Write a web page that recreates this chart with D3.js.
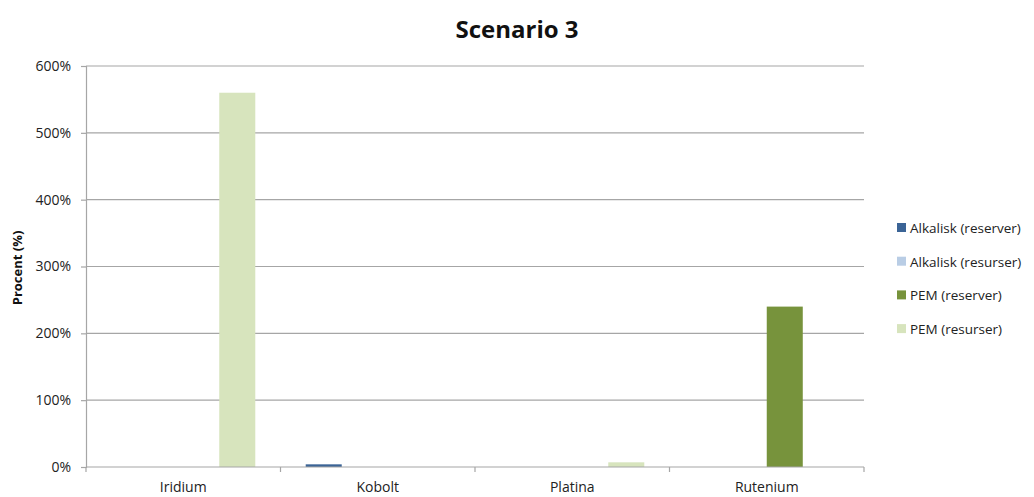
<!DOCTYPE html>
<html>
<head>
<meta charset="utf-8">
<script src="https://cdn.jsdelivr.net/npm/d3@7"></script>
<style>
  body { margin: 0; background: #fff; }
  svg { display: block; font-family: "Open Sans", "Liberation Sans", sans-serif; }
</style>
</head>
<body>
<svg id="chart" width="1034" height="497"></svg>
<script>
// Metal categories and the four technology/estimate series (values in percent)
const categories = ["Iridium", "Kobolt", "Platina", "Rutenium"];
const seriesNames = ["Alkalisk (reserver)", "Alkalisk (resurser)", "PEM (reserver)", "PEM (resurser)"];
const alkaliskReserver = [0, 4, 0, 0];
const alkaliskResurser = [0, 0, 0, 0];
const pemReserver = [0, 0, 0, 240];
const pemResurser = [560, 0, 7, 0];
const yTicks = [0, 100, 200, 300, 400, 500, 600];
const colors = ["#3B6496", "#B9CDE5", "#77933C", "#D7E4BD"];

const seriesValues = [alkaliskReserver, alkaliskResurser, pemReserver, pemResurser];

const svg = d3.select("#chart");
const margin = { left: 86, right: 864, top: 66, bottom: 467 };

const x0 = d3.scaleBand().domain(categories).range([margin.left, margin.right]).paddingInner(0).paddingOuter(0);
const x1 = d3.scaleBand().domain(seriesNames).range([0, x0.bandwidth()]).paddingOuter(0.7).paddingInner(0);
const y = d3.scaleLinear().domain([0, 600]).range([margin.bottom, margin.top]);

// Horizontal gridlines
svg.append("g")
  .selectAll("line")
  .data(yTicks.filter(d => d > 0))
  .join("line")
  .attr("x1", margin.left).attr("x2", margin.right)
  .attr("y1", d => y(d)).attr("y2", d => y(d))
  .attr("stroke", "#A6A6A6").attr("stroke-width", 1.2);

// Bars
const groups = svg.append("g")
  .selectAll("g")
  .data(categories)
  .join("g")
  .attr("transform", d => `translate(${x0(d)},0)`);

groups.selectAll("rect")
  .data((c, i) => seriesNames.map((s, j) => ({ s, v: seriesValues[j][i], c: colors[j] })))
  .join("rect")
  .attr("x", d => x1(d.s))
  .attr("width", x1.bandwidth())
  .attr("y", d => y(d.v))
  .attr("height", d => y(0) - y(d.v))
  .attr("fill", d => d.c);

// Y axis
const yAxis = svg.append("g")
  .attr("transform", `translate(${margin.left},0)`)
  .call(d3.axisLeft(y).tickValues(yTicks).tickFormat(d => d + "%").tickSize(5).tickPadding(10));
yAxis.select(".domain").attr("stroke", "#A6A6A6").attr("stroke-width", 1.2);
yAxis.selectAll(".tick line").attr("stroke", "#A6A6A6").attr("stroke-width", 1.2);
yAxis.selectAll(".tick text").attr("font-size", 14).attr("fill", "#222")
  .attr("font-family", "'Open Sans', sans-serif");

// X axis with ticks at category boundaries
const xAxisG = svg.append("g").attr("transform", `translate(0,${margin.bottom})`);
xAxisG.append("line")
  .attr("x1", margin.left).attr("x2", margin.right)
  .attr("stroke", "#A6A6A6").attr("stroke-width", 1.2);
const boundaries = categories.map(c => x0(c)).concat([x0.range()[1]]);
xAxisG.selectAll("line.tk")
  .data(boundaries)
  .join("line")
  .attr("class", "tk")
  .attr("x1", d => d).attr("x2", d => d)
  .attr("y1", 0).attr("y2", 5)
  .attr("stroke", "#A6A6A6").attr("stroke-width", 1.2);
xAxisG.selectAll("text")
  .data(categories)
  .join("text")
  .attr("x", d => x0(d) + x0.bandwidth() / 2)
  .attr("y", 25)
  .attr("text-anchor", "middle")
  .attr("font-size", 14)
  .attr("fill", "#222")
  .text(d => d);

// Title
svg.append("text")
  .attr("x", 517).attr("y", 38)
  .attr("text-anchor", "middle")
  .attr("font-size", 24)
  .attr("font-weight", "bold")
  .attr("fill", "#111")
  .text("Scenario 3");

// Y axis title
svg.append("text")
  .attr("transform", `translate(22,268) rotate(-90)`)
  .attr("text-anchor", "middle")
  .attr("font-size", 13)
  .attr("font-weight", "bold")
  .attr("fill", "#111")
  .text("Procent (%)");

// Legend
const legend = svg.append("g")
  .selectAll("g")
  .data(seriesNames)
  .join("g")
  .attr("transform", (d, i) => `translate(897,${223 + i * 33.7})`);
legend.append("rect")
  .attr("width", 9).attr("height", 9)
  .attr("fill", (d, i) => colors[i]);
legend.append("text")
  .attr("x", 13).attr("y", 10)
  .attr("font-size", 13.5)
  .attr("fill", "#222")
  .text(d => d);
</script>
</body>
</html>
